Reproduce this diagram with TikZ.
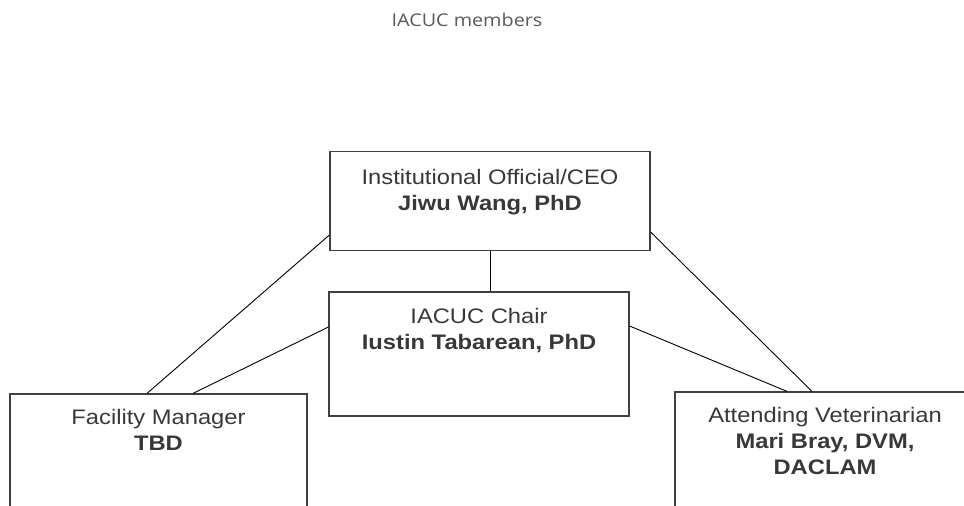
\documentclass[tikz,border=0pt]{standalone}
\usepackage{fontspec}
\setsansfont{Liberation Sans}[FakeStretch=1.13]
\newfontfamily\titlefont{Open Sans}[FakeStretch=1.13]
\usetikzlibrary{positioning,calc}

\begin{document}
\begin{tikzpicture}
        [x=1pt,
        y=-1pt,
        box/.style={draw=black!75, line width=1.2pt, rectangle, inner sep=0pt},
        boxtext/.style={inner sep=0pt, align=center, text=black!78, font=\sffamily\fontsize{21}{26}\selectfont},
        edge/.style={color=black, line width=0.9pt},
        titletext/.style={inner sep=0pt, text=black!65, font=\titlefont\fontsize{17.5}{21}\selectfont}]
%
\useasboundingbox (0,0) rectangle (964,506);
\clip (0,0) rectangle (964,506);
%%
%% Title
%%
\node[titletext, anchor=base] (title) at (467,27) {IACUC members};
%%
%% Boxes
%%
\node[box, minimum width=320pt, minimum height=99pt]  (ceo)   at (490,201)   {};
\node[box, minimum width=300pt, minimum height=124pt] (chair) at (479,354)   {};
\node[box, minimum width=297pt, minimum height=146pt] (fm)    at (158.5,467) {};
\node[box, minimum width=300pt, minimum height=148pt] (av)    at (825,466)   {};
%%
%% Texts in the boxes
%%
\node[boxtext, below=18pt of ceo.north]   (ceotext)   {Institutional Official/CEO\\ \textbf{Jiwu Wang, PhD}};
\node[boxtext, below=17pt of chair.north] (chairtext) {IACUC Chair\\ \textbf{Iustin Tabarean, PhD}};
\node[boxtext, below=16pt of fm.north]    (fmtext)    {Facility Manager\\ \textbf{TBD}};
\node[boxtext, below=16pt of av.north]    (avtext)    {Attending Veterinarian\\ \textbf{Mari Bray, DVM,}\\ \textbf{DACLAM}};
%%
%% Connectors
%%
\draw[edge] (ceo.south) -- (ceo.south |- chair.north);
\draw[edge] ([yshift=-34pt]ceo.west) -- ([xshift=-11.5pt]fm.north);
\draw[edge] ([yshift=27pt]chair.west) -- ([xshift=34.5pt]fm.north);
\draw[edge] ([yshift=-31pt]ceo.east) -- ([xshift=-13pt]av.north);
\draw[edge] ([yshift=28pt]chair.east) -- ([xshift=-38pt]av.north);
%%
\end{tikzpicture}
\end{document}
